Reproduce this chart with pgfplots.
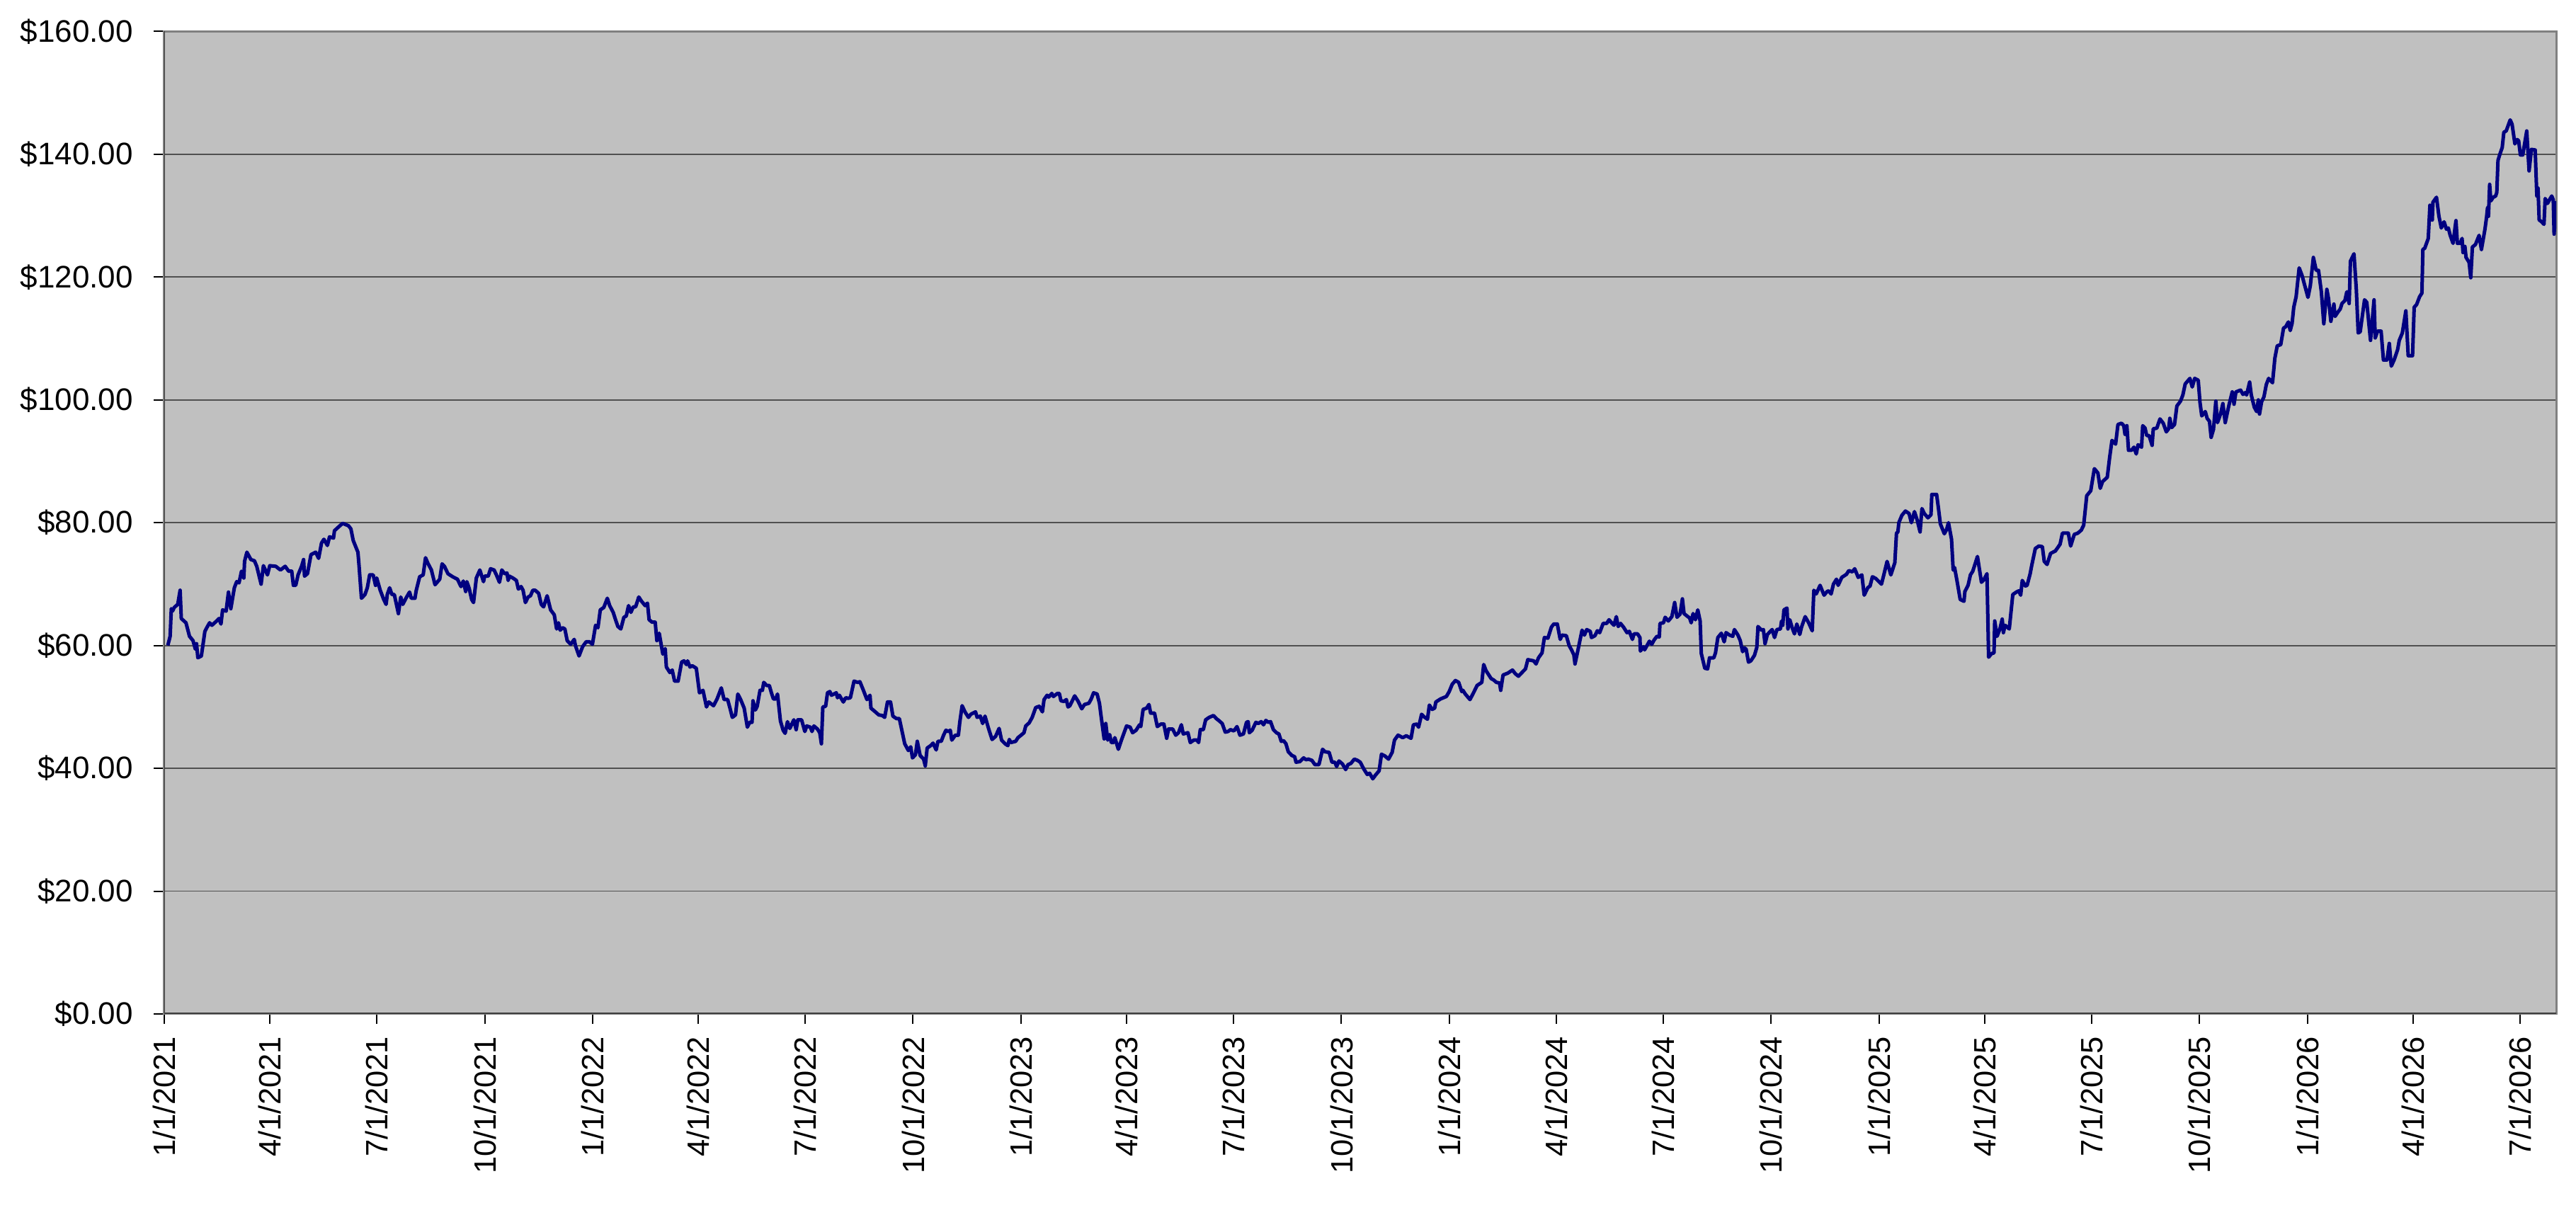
\documentclass[border=0pt]{standalone}
\usepackage{pgfplots}
\pgfplotsset{compat=1.18}
\usepackage{pgfplotstable}
\usepackage{fontspec}
\setmainfont{Liberation Sans}
\definecolor{plotbg}{RGB}{192,192,192}
\definecolor{navyline}{RGB}{0,0,128}
\definecolor{gridc}{RGB}{80,80,80}
\definecolor{framec}{RGB}{128,128,128}
\pgfplotstableread{
d v
3 60
5 61.5
6 66
7 65.6
8.5 66.2
11.5 66.7
13.5 69
14.5 64.4
18.5 63.7
21.5 61.5
24.5 60.8
26.5 59.4
27.5 60.3
28.6 58
31.6 58.3
34.6 62.3
36.5 63
38.6 63.7
40.6 63.3
44.6 64
46.6 64.4
48.3 63.5
49.7 65.8
52.7 65.6
54.7 68.7
56.7 66
59.7 69.4
61.7 70.4
63.7 70.2
65.8 72.1
67.8 71
68.4 73.7
70.4 75.2
73.8 74
76.8 73.8
78.8 72.9
82.5 70
84.5 73
87.9 71.5
89.9 73
95 72.9
99 72.3
103 72.9
106 72.1
108.6 72.1
110 69.8
112 69.8
114 71.5
117 72.9
118.7 74
119.5 71.3
122 71.7
125 74.8
129 75.2
131.5 74.2
134 76.7
136 77.3
139 76.3
140.8 77.7
144.2 77.5
145 78.7
149 79.4
152 79.9
157 79.5
159 79
161 77.1
165 75.2
166 72.9
168 67.7
171 68.3
173 69.4
175 71.5
178 71.5
180 69.8
181 71
184 69
187 67.5
189 66.7
190 68.3
192 69.4
194 68.3
196 68.3
199.5 65.2
201.5 67.9
203.2 66.7
206.5 67.9
209 68.7
210.5 67.7
213.6 67.7
214.6 68.9
217.6 71.2
220.6 71.5
222.6 74.3
224.6 73.4
227.6 72.3
230.7 69.9
234.7 70.8
236.7 73.3
238.7 72.9
241.7 71.7
245.7 71.2
249.8 70.8
252.8 69.6
254.8 70.5
256.8 68.8
257.8 70.4
259.8 69.3
261.9 67.5
263.5 67
265.9 71
268.9 72.3
272 70.4
273 71.3
276 71.3
278 72.5
281 72.3
283 71.5
285.6 70.3
287.6 72.3
290 71.7
292 71.8
293 70.6
294 71.3
297 71
300 70.6
301.7 69.2
304 69.6
305.7 69
307.7 67
310 67.9
312 68.1
314 69
316 69
319 68.5
321.2 66.7
323.2 66.3
326.2 68.1
329.2 65.8
332.3 65
334.3 62.7
335.9 63.7
337.3 62.5
339.3 62.9
341.3 62.7
343.3 60.8
346.3 60.2
349.3 61
350.3 60
353.4 58.3
356.4 59.8
359.4 60.6
362.4 60.6
364.8 60.2
367.5 63.3
369.5 62.9
371.5 65.8
374.5 66.2
377.5 67.7
379.5 66.5
382.5 65.4
384.5 64.2
386.5 63.1
389 62.7
391.6 64.6
393.6 64.8
395.6 66.5
397.6 65.4
399.6 66.3
401.6 66.3
404.3 67.9
406.7 67.2
409.7 66.5
411.7 66.9
413.1 64.2
415.7 63.8
418.3 63.8
419.7 60.8
421.7 62
424.8 58.6
426.8 59.5
427.8 56.5
430.8 55.6
432.8 56
434.8 54.2
437.8 54.2
440.8 57.3
442.8 57.5
444.9 56.9
445.9 57.5
447.9 56.5
449.9 56.7
453.3 56.3
456 52.3
459 52.7
462 50
464 50.8
468 50.2
471 51.3
474.6 53.1
477 51.2
480 51.2
482 49.8
484 48.3
486.7 48.7
488.7 52.1
491.1 51.2
494.1 49.8
496.8 46.7
498.8 47.5
500.8 47.5
501.6 51
503.6 49.5
505.2 50.1
507.6 52.7
509.6 52.7
510.8 54
513.2 53.5
515.5 53.5
517.3 52.3
519 51.3
521 51.3
522.5 52.1
525 47.7
527.3 46.2
529 45.7
531 47.6
533 46.5
536.4 47.9
538.4 46.3
539.8 47.9
543 47.9
545.8 46
547.4 46.9
550.5 46.7
551.9 46
553.5 46.9
556.5 46.4
558.5 45.8
559.9 44
561.1 50
563.5 50.1
565.1 52.3
567.1 52.5
568.5 51.9
572.6 52.3
573.6 51.5
575.2 51.9
578.6 50.8
580.6 51.5
582.6 51.4
584.6 51.5
587.7 54.2
590.7 54
592.7 54.1
595.7 52.7
598.7 51.2
601.3 51.9
602.1 49.8
605.8 49.2
608.8 48.7
611.8 48.6
613.8 48.3
616.2 50.8
618.8 50.8
620.8 48.5
623.9 48.1
626.3 48.1
630.9 44
634 42.9
636 43.5
637.5 41.7
640 42.2
641.6 44.4
644 42.1
647 41.5
648.4 40.4
650 43.3
653 43.7
655 44.1
657.7 43
659.2 44.4
662 44.4
664 45.4
666 46.2
668 46
669.7 46.2
671 44.6
674 45.4
676.6 45.4
677.8 47.5
679.8 50.2
682.2 49.2
685.2 48.3
687.2 48.8
691.2 49.2
692.6 48.3
695.3 48.5
697.3 47.3
699.3 48.5
702.3 46.5
705.3 44.7
708.3 45.2
711.3 46.5
713.4 44.6
716.4 44
718.8 43.7
720 44.7
721.4 44.2
725.4 44.4
727.4 45
729.4 45.3
732.5 45.8
734 46.9
736.9 47.4
739.5 48.3
742.5 49.9
745.5 50.1
748.2 49.2
749.6 51.2
752.2 51.9
753.6 51.6
756.2 52.2
757.6 51.7
761 52.2
762.6 52.2
764 51
766.6 50.9
768.6 51.2
770 50
771.6 50.2
775.7 51.8
778.7 50.9
781.7 49.7
784.1 50.4
787.8 50.6
789.8 51.3
791.8 52.3
794.8 52.1
796.8 50.6
798.2 48.5
800.8 44.8
802.2 47.3
803.8 44.6
805.5 45.5
806.9 44.2
808.9 44.2
809.9 45
812.9 43.1
815.9 44.8
819.9 46.9
823 46.7
825 45.8
828 46.2
831 47.1
832 46.8
834 49.6
837 49.8
839 50.4
840.4 49
843.7 49
846.1 46.8
849.1 47.2
851.7 47.2
854.1 44.9
855.7 46.4
859.2 46.4
861.8 45.4
864.2 45.8
866.6 47.1
868.2 45.6
872.2 45.8
874.2 44.2
877.2 44.6
879.9 44.6
881.3 44.2
882.7 46.3
885.3 46.3
887.3 47.9
890.3 48.3
894 48.6
896.4 48.1
898.4 47.8
901.4 47.3
904 45.9
906.4 46
908.4 46.3
911.4 46.1
914 46.8
916.5 45.4
919.5 45.6
922.1 47.5
923.5 47.6
924.5 45.8
926.9 46.2
930.1 47.5
932.1 47.3
934.6 47.6
936.6 47.1
938.6 47.8
940.6 47.5
942.6 47.6
945 46.3
947.6 45.8
949.7 45.6
951.7 44.4
953.7 44.5
955.7 44
957.7 42.7
960.7 42.1
963.1 41.9
964.3 41
967.6 41.1
970.8 41.7
972.8 41.4
974.8 41.5
977.8 41.3
980.4 40.6
983.8 40.6
986.9 43.1
988.9 42.7
992.5 42.6
994.9 41
997.3 41
998.9 40.3
1000.9 41.2
1003.9 40.7
1006.6 39.8
1008.6 40.6
1011 40.8
1014 41.5
1016.6 41.3
1019 41
1022 39.9
1025 39
1027 39.2
1029.7 38.3
1032 38.9
1035.1 39.6
1037.1 42.3
1040.1 42
1043.1 41.5
1046.2 42.6
1048.2 44.6
1051.2 45.4
1055.2 45
1058.2 45.3
1062.3 44.9
1064.3 47.1
1067.3 47.2
1068.7 46.7
1071.3 48.8
1073.3 48.4
1076.3 48
1077.9 50.3
1080.3 49.6
1082.4 49.8
1083.4 50.8
1087.4 51.3
1092.4 51.7
1094.8 52.5
1097.4 53.7
1100.1 54.3
1102.9 54
1105.5 52.5
1106.5 52.7
1108.5 52.1
1112.5 51.2
1115.5 52.3
1118.6 53.5
1122.6 54
1124.2 56.9
1126.2 55.9
1130.6 54.6
1132.6 54.4
1135 54
1137.7 53.9
1138.7 52.7
1140.7 55.2
1144.7 55.5
1148.7 56
1151.2 55.4
1153.8 55
1156.8 55.6
1159.8 56.2
1161.8 57.7
1166.8 57.5
1168.8 57
1170.9 58
1173.9 58.8
1175.9 61.3
1178.9 61.2
1181.9 63
1183.9 63.5
1186.9 63.5
1189.4 61
1191 61.7
1194.6 61.6
1197 60
1199 59.3
1201 58.5
1202 57
1204 58.8
1208 62.5
1210 61.7
1212 62.6
1215 62.3
1216 61.3
1219 61.6
1221 62.4
1223 62.1
1226 63.6
1229 63.6
1231 64.2
1233.2 63.7
1235.2 63.3
1237.2 64.7
1238.8 63.1
1240.8 63.6
1243.3 63
1246.3 62.1
1248.3 62.3
1250.9 61
1252.3 61.9
1255.3 61.9
1257.3 61.3
1257.7 59.1
1260.3 59.8
1261.3 59.3
1265.4 60.7
1267.4 60.2
1269.4 60.9
1271.8 61.5
1273.8 61.4
1274.4 63.6
1277.4 63.7
1278.8 64.6
1281.5 64
1284.5 64.7
1286.9 67
1288.9 64.6
1291.5 65.1
1293.5 67.6
1294.9 65.2
1297.5 64.8
1299.6 64.5
1301 63.7
1302.6 65.2
1304.6 64.2
1306.6 65.8
1308.6 64
1309.6 58.7
1312.6 56.3
1315 56.2
1316.6 58
1320.3 58
1321.7 58.8
1323.7 61.3
1326.7 62
1329.1 60.6
1330.7 62.1
1333.7 61.7
1336.4 61.5
1337.8 62.6
1340.8 61.7
1342.8 60.8
1344.8 59
1346.4 59.6
1347.8 59.4
1349.8 57.3
1351.8 57.5
1354.9 58.4
1356.9 59.7
1357.9 63.1
1360.9 62.5
1362.5 62.6
1363.9 60.3
1365.9 61.8
1370 62.6
1372 61.3
1374 62.6
1377 62.7
1378 64
1379 63.3
1380 65.8
1382.6 66.1
1383.4 62.7
1385 64.2
1387 62.9
1389 61.9
1391 63.5
1393.5 61.8
1395 63
1398.1 64.7
1401.1 63.7
1404.1 62.4
1405.5 69
1407.5 68.4
1410.8 69.8
1414.2 68.2
1416.8 68.8
1418.2 68.9
1420.2 68.4
1422.2 70
1424.8 70.8
1426.2 69.8
1429.3 71.1
1433.3 71.6
1435.3 72.2
1438.3 72
1440.3 72.5
1443.3 71.1
1446.4 71.5
1448.4 68.2
1451.4 69.4
1453.4 69.7
1455.4 71.2
1458.4 70.9
1460.4 70.5
1463.1 70
1465.1 71.5
1467.9 73.7
1471.1 71.5
1474.5 73.5
1475.9 78.3
1477.1 78.5
1477.9 80
1480.5 81.2
1483.5 81.9
1486.6 81.5
1488.6 80
1491.2 81.8
1493.6 80.4
1496 78.5
1497.6 82.3
1499.6 81.5
1502.7 80.8
1505.3 81.3
1506 84.6
1510.1 84.6
1511.7 82.3
1513.3 79.8
1516.7 78.2
1518.6 78.9
1520.2 80
1522.8 77.3
1524.2 72.3
1525.4 72.7
1527.5 70.5
1530.2 67.5
1533.4 67.2
1534.2 68.8
1536.9 69.8
1538.9 71.5
1540.9 72.1
1544.9 74.5
1548.3 70.3
1550.3 70.7
1553 71.7
1554.4 58.1
1557 58.7
1559 58.8
1559.6 64
1561.6 61.5
1564 62.7
1566 64.3
1567 62.1
1568.4 63.3
1572 62.7
1575 68.3
1578 68.7
1580.1 68.9
1581.7 68.2
1583.1 70.6
1585.7 69.7
1587.2 69.8
1589.8 71.7
1591.2 73.1
1594.2 75.8
1597.2 76.2
1600.2 76.1
1601.8 73.7
1604.2 73.2
1607.2 75
1611.3 75.4
1615.3 76.5
1617.3 78.3
1622.3 78.3
1624.3 76.2
1627.4 78.1
1630.4 78.3
1633.4 78.8
1635.4 79.6
1638 84.4
1641.4 85.2
1644.5 88.8
1647.5 88.1
1649.5 85.6
1651.5 86.7
1655.5 87.4
1657.5 90.6
1659.5 93.4
1662.6 92.8
1664.6 96
1667.6 96.2
1669.6 95.8
1670.6 94.4
1672.2 95.8
1673.6 91.8
1676.2 91.8
1678.2 92.3
1680.2 91.2
1681.7 92.7
1684.7 92.3
1685.7 95.8
1687.7 95.4
1689.1 94.2
1691.1 94.2
1693.7 92.6
1694.7 95.3
1697.7 95.4
1700.4 96.9
1703.2 96.2
1705.8 94.8
1707.8 95.3
1708.8 97
1710.4 95.5
1712.8 96
1714.8 99
1717.9 99.8
1719.9 100.8
1721.9 102.6
1725.9 103.5
1727.9 102.1
1730 103.5
1733 103.2
1734.5 99.6
1736 97.4
1739 98.1
1740.6 97
1742.6 96.5
1744 93.9
1746 95.2
1748 99.8
1749.4 96.3
1752 97.7
1754 99.4
1756 96.3
1759 99
1762 101.3
1763.5 99.3
1765.1 101.3
1769.1 101.6
1771.1 100.9
1773.2 101.2
1774.2 100.8
1776.8 102.9
1778.2 100.8
1780.8 98.8
1782.8 98.1
1784.2 100
1785.2 97.7
1787 99.7
1789 100.5
1791 102.5
1793 103.5
1796.3 102.8
1798.3 106.8
1800.3 108.8
1803.3 109
1805.7 111.7
1807.5 111.9
1809.8 112.7
1811.4 111.3
1813 112.5
1814.4 115.1
1816.4 116.8
1819 121.5
1821.4 120.3
1826.5 116.7
1828.5 118.6
1831.1 123.2
1833.5 121.1
1835.5 121.1
1837.9 117.6
1840 112.4
1842.6 118
1844 116.5
1846 112.8
1848.6 115.6
1849.6 113.6
1852 114.3
1854 114.8
1855.5 115.7
1858 116.2
1859.6 117.6
1861.6 115.7
1862.7 122.6
1865.7 123.8
1867.7 118
1869.3 110.9
1871 111.1
1874.7 116.3
1876.6 115.9
1879.8 109.7
1882.8 116.3
1883.8 110.1
1885.8 111.2
1888.8 111.2
1890.8 106.5
1893.8 106.5
1895.8 109.2
1897.5 105.5
1899.9 106.5
1902.9 108.2
1904.3 109.7
1906.9 110.9
1909.9 114.5
1911.9 107.2
1915.6 107.2
1917 115.1
1919 115.5
1921.6 116.8
1923.6 117.4
1924.4 124.5
1926 124.7
1929 126.3
1930.4 131.7
1932.4 129.3
1933 132.2
1936 133
1938.1 129.9
1940.1 128
1942.5 129
1944.5 127.8
1946.1 128
1947.7 126.8
1950.1 125.5
1952.6 129.2
1953.8 125.5
1956.2 125.5
1957.8 126.3
1958.6 124
1960.2 125
1961.2 123.2
1963.8 122.4
1965.2 119.9
1966.6 124.9
1969.2 125.3
1972.3 126.8
1974.3 124.5
1977.3 127.8
1978.7 129.8
1979.5 131.3
1980.3 129.9
1981.3 135.1
1982.3 132.4
1984.3 133
1986.4 133.2
1987.4 133.8
1988.4 139
1990 140
1992 141.1
1993.4 143.6
1995.4 143.8
1998.8 145.6
2000.4 144.9
2001.4 143.6
2002.8 141.7
2004.8 142.4
2006 142.2
2007.5 139.9
2009.5 139.9
2012.9 143.8
2014.9 137.3
2016.9 140.8
2020.1 140.7
2021.5 133.2
2022.5 134.5
2023.5 129.3
2025 129.1
2027.6 128.6
2028.6 132.8
2030.6 132
2032.6 132.7
2034.2 133.2
2035.5 132.6
2036.2 127
2037.8 132.4
}\pricedata
\begin{document}
\begin{tikzpicture}
\useasboundingbox (-46.4pt,-58.2pt) rectangle (681.2pt,286.4pt);
\begin{axis}[
  at={(0,0)}, anchor=south west,
  scale only axis,
  width=675.6pt, height=277.5pt,
  xmin=0, xmax=2038,
  ymin=0, ymax=160,
  axis background/.style={fill=plotbg},
  axis line style={draw=framec, line width=0.6pt},
  tick pos=left,
  tick align=outside,
  major tick length=2.9pt,
  tick style={black, line width=0.4pt},
  ytick={0,20,40,60,80,100,120,140,160},
  yticklabels={\$0.00,\$20.00,\$40.00,\$60.00,\$80.00,\$100.00,\$120.00,\$140.00,\$160.00},
  xtick={0,90,181,273,365,455,546,638,730,820,911,1003,1095,1186,1277,1369,1461,1551,1642,1734,1826,1916,2007},
  xticklabels={1/1/2021,4/1/2021,7/1/2021,10/1/2021,1/1/2022,4/1/2022,7/1/2022,10/1/2022,1/1/2023,4/1/2023,7/1/2023,10/1/2023,1/1/2024,4/1/2024,7/1/2024,10/1/2024,1/1/2025,4/1/2025,7/1/2025,10/1/2025,1/1/2026,4/1/2026,7/1/2026},
  ymajorgrids=true,
  major grid style={draw=gridc, line width=0.35pt},
  yticklabel style={font=\fontsize{8.8}{10}\selectfont, xshift=-2.4pt},
  xticklabel style={font=\fontsize{8.7}{10}\selectfont, rotate=90, anchor=east},
  /pgf/number format/assume math mode=true,
  clip=true,
]
\addplot[navyline, line width=1pt, line join=round, no markers] table[x=d, y=v] {\pricedata};
\draw[black!75, line width=0.6pt] (rel axis cs:0,1) -- (rel axis cs:0,0) -- (rel axis cs:1,0);
\end{axis}
\end{tikzpicture}
\end{document}
